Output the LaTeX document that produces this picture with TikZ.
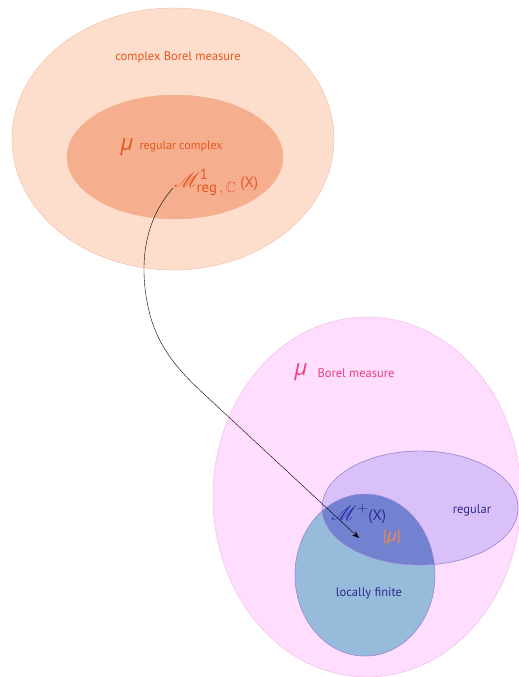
\documentclass[tikz,border=0pt]{standalone}
\usepackage{amssymb}
\usepackage{mathrsfs}
\usepackage{fontspec}
\setmainfont{PT Sans}
\newfontfamily\greekfont{Open Sans}
\usetikzlibrary{shapes.geometric,arrows.meta}

\definecolor{peach}{HTML}{FDDDCB}
\definecolor{peachline}{HTML}{F3BCA4}
\definecolor{salmon}{HTML}{F5AF8F}
\definecolor{rust}{HTML}{E8561E}
\definecolor{brick}{HTML}{F06040}
\definecolor{pinkfill}{HTML}{FFDDFF}
\definecolor{pinkline}{HTML}{F6B4E2}
\definecolor{rose}{HTML}{EE3F78}
\definecolor{lavender}{HTML}{D9C0F8}
\definecolor{lavline}{HTML}{9C8CD6}
\definecolor{skyblue}{HTML}{97BBDB}
\definecolor{overlap}{HTML}{7381D1}
\definecolor{navy}{HTML}{2B2C8E}
\definecolor{ink}{HTML}{2F2FB0}
\definecolor{amber}{HTML}{F08A3A}

\newcommand{\mugr}{{\greekfont\itshape μ}}

\begin{document}
\begin{tikzpicture}[
x=1pt, y=-1pt,
blob/.style = {draw, ellipse, inner sep=0pt},
lbl/.style = {font=\fontsize{12.5}{14}\selectfont},
sub/.style = {font=\fontsize{12}{14}\selectfont},
bigmu/.style = {font=\fontsize{22}{24}\selectfont},
scr/.style = {font=\fontsize{21}{23}\selectfont}
]
  \useasboundingbox (0,0) rectangle (519,677);

  % complex measures
  \node[blob, fill=peach, draw=peachline, minimum width=322pt, minimum height=262pt] (cbm) at (173,139) {};
  \node[blob, fill=salmon, draw=salmon, minimum width=216pt, minimum height=124pt] (rcm) at (175,157) {};
  \node[lbl, text=rust] (cbmlbl) at (178,57) {complex Borel measure};
  \node[bigmu, text=rust] (mu1) at (127,147) {\mugr};
  \node[sub, text=rust, anchor=west] (rcmlbl) at (136,147) {regular complex};
  \node[scr, text=rust, anchor=base west, inner sep=0pt] (m1) at (174,187)
    {$\mathscr{M}^{\mathrm{1}}_{\mathrm{reg}\,,\,\textcolor{brick}{\mathbb{C}}}$\,{\fontsize{15}{17}\selectfont(X)}};
  \coordinate (start) at (173,188);

  % positive measures
  \node[blob, fill=pinkfill, draw=pinkline, minimum width=308pt, minimum height=360pt] (bm) at (367,497) {};
  \node[bigmu, text=rose] (mu2) at (301,372) {\mugr};
  \node[lbl, text=rose, anchor=west] (bmlbl) at (314,373) {Borel measure};

  \node[blob, fill=skyblue, draw=lavline, minimum width=140pt, minimum height=162pt] (lf) at (365,575) {};
  \node[blob, fill=lavender, draw=lavline, minimum width=196pt, minimum height=114pt] (reg) at (420,508) {};
  \begin{scope}
    \clip (365,575) ellipse [x radius=70, y radius=81];
    \fill[overlap] (420,508) ellipse [x radius=98, y radius=57];
  \end{scope}
  \draw[lavline] (365,575) ellipse [x radius=70, y radius=81];
  \draw[lavline] (420,508) ellipse [x radius=98, y radius=57];

  \node[lbl, text=navy] (reglbl) at (472,510) {regular};
  \node[lbl, text=navy] (lflbl) at (369,593) {locally finite};
  \node[scr, text=ink, anchor=base west, inner sep=0pt] (mplus) at (331,520)
    {$\mathscr{M}^{\textcolor{navy}{+}}$\textcolor{navy}{\fontsize{15}{17}\selectfont(X)}};
  \node[text=amber, font=\fontsize{17}{19}\selectfont] (absmu) at (392,538) {|\mugr|};

  \coordinate (end) at (359,538);
  \draw[-{Stealth[length=7pt]}] (start) .. controls (143,222) and (138,268) .. (150,315)
    .. controls (160,352) and (184,375.5) .. (205,395) -- (end);
\end{tikzpicture}
\end{document}
